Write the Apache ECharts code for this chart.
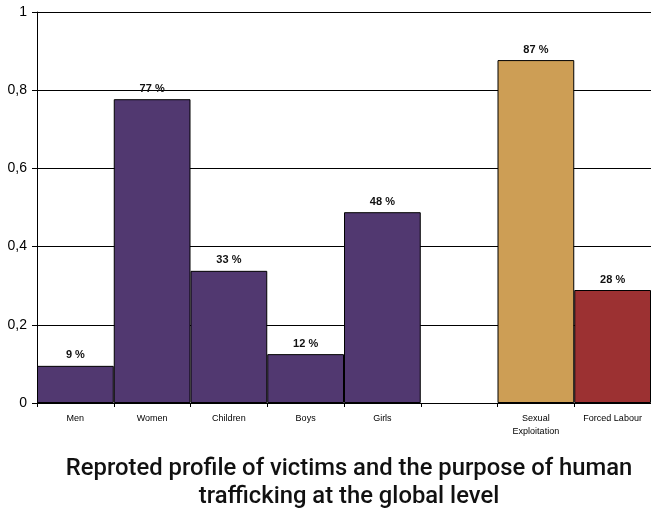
<!DOCTYPE html>
<html><head><meta charset="utf-8">
<script src="https://cdn.jsdelivr.net/npm/echarts@6/dist/echarts.min.js"></script>
<style>html,body{margin:0;padding:0;background:#fff}#c{width:651px;height:513px}</style>
</head><body><div id="c"></div>
<script>
const categories = ['Men', 'Women', 'Children', 'Boys', 'Girls', '', 'Sexual\nExploitation', 'Forced Labour'];
const values = [0.095, 0.777, 0.338, 0.125, 0.488, null, 0.877, 0.289];
const valueLabels = ['9 %', '77 %', '33 %', '12 %', '48 %', '', '87 %', '28 %'];
const barColors = ['#513870', '#513870', '#513870', '#513870', '#513870', '#513870', '#CD9E55', '#9C3132'];
const yTicks = ['0', '0,2', '0,4', '0,6', '0,8', '1'];
const titleText = 'Reproted profile of victims and the purpose of human\ntrafficking at the global level';

const chart = echarts.init(document.getElementById('c'), null, {renderer: 'canvas'});
chart.setOption({
  animation: false,
  backgroundColor: '#fff',
  title: {
    text: titleText,
    left: 344, top: 450, textAlign: 'center',
    textStyle: {fontFamily: 'Roboto', fontSize: 23.8, fontWeight: 500, color: '#111', lineHeight: 28}
  },
  grid: {left: 37, right: -1, top: 12, bottom: 110, containLabel: false},
  xAxis: {
    type: 'category', data: categories,
    axisLine: {lineStyle: {color: '#000', width: 1}},
    axisTick: {show: true, length: 4, lineStyle: {color: '#000'}},
    axisLabel: {color: '#000', fontFamily: 'Liberation Sans', fontSize: 9, margin: 9, interval: 0, lineHeight: 13}
  },
  yAxis: {
    type: 'value', min: 0, max: 1, interval: 0.2,
    axisLine: {show: true, lineStyle: {color: '#000'}},
    axisTick: {show: true, length: 5, lineStyle: {color: '#000'}},
    splitLine: {lineStyle: {color: '#000', width: 1}},
    axisLabel: {color: '#000', fontFamily: 'Liberation Sans', fontSize: 14, margin: 10,
      formatter: v => yTicks[Math.round(v / 0.2)]}
  },
  series: [{
    type: 'bar', barWidth: '100%', barCategoryGap: '0%',
    data: values.map((v, i) => ({value: v, itemStyle: {color: barColors[i]}})),
    itemStyle: {borderColor: '#000', borderWidth: 1},
    label: {show: true, position: 'top', distance: 5, color: '#111', fontFamily: 'Liberation Sans', fontSize: 11, fontWeight: 'bold',
      formatter: p => valueLabels[p.dataIndex]}
  }]
});
</script></body></html>
